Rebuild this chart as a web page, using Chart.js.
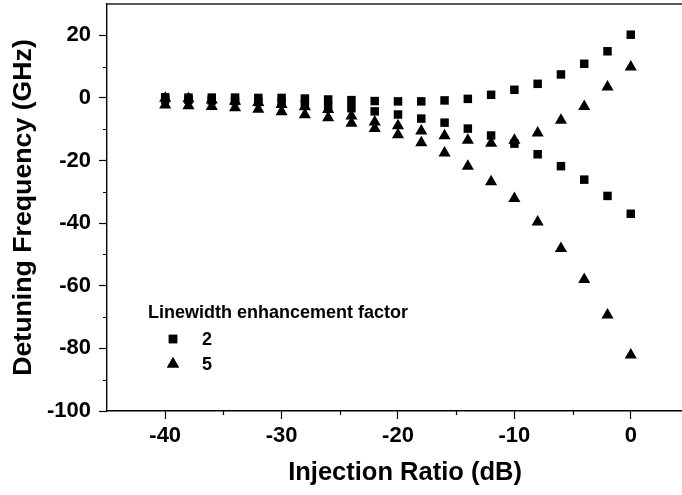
<!DOCTYPE html>
<html><head><meta charset="utf-8">
<script src="https://cdn.jsdelivr.net/npm/chart.js@4/dist/chart.umd.min.js"></script>
<style>html,body{margin:0;padding:0;background:#fff;overflow:hidden}#wrap{width:682px;height:495px;position:relative}</style>
</head><body><div id="wrap"><canvas id="c" width="682" height="495"></canvas></div>
<script>
// Injection ratio (dB)
const injectionRatio = [-40,-38,-36,-34,-32,-30,-28,-26,-24,-22,-20,-18,-16,-14,-12,-10,-8,-6,-4,-2,0];
// Linewidth enhancement factor 2 (squares): upper and lower branches (GHz)
const alpha2Upper = [0.2,0.1,0.1,0.1,0.0,0.0,-0.2,-0.5,-0.7,-1.0,-1.1,-1.1,-0.8,-0.3,1.0,2.6,4.5,7.5,10.9,14.9,20.2];
const alpha2Lower = [-0.5,-0.6,-0.8,-1.0,-1.3,-1.6,-2.0,-2.6,-3.3,-4.3,-5.3,-6.6,-7.9,-9.8,-12.0,-14.6,-18.0,-21.8,-26.1,-31.3,-37.0];
// Linewidth enhancement factor 5 (triangles): upper and lower branches (GHz)
const alpha5Upper = [-0.1,-0.3,-0.7,-1.1,-1.5,-2.1,-2.8,-3.7,-5.8,-7.7,-8.9,-10.6,-12.1,-13.5,-14.5,-13.5,-11.2,-7.1,-2.7,3.5,9.9];
const alpha5Lower = [-2.3,-2.5,-2.7,-3.1,-3.6,-4.4,-5.4,-6.3,-8.1,-9.8,-11.8,-14.3,-17.6,-21.8,-26.8,-32.1,-39.6,-48.1,-58.0,-69.3,-82.1];
const seriesNames = ['2', '5'];
const legendTitle = 'Linewidth enhancement factor';
const xTitle = 'Injection Ratio (dB)';
const yTitle = 'Detuning Frequency (GHz)';
const xMinorTicks = [-35,-25,-15,-5];
const yMinorTicks = [-90,-70,-50,-30,-10,10];

const FONT = "'Liberation Sans', Arial, sans-serif";
function pts(xs, ys) { return xs.map((x, i) => ({x: x, y: ys[i]})); }

const data2 = pts(injectionRatio, alpha2Upper).concat(pts(injectionRatio, alpha2Lower));
const data5 = pts(injectionRatio, alpha5Upper).concat(pts(injectionRatio, alpha5Lower));

const extras = {
  id: 'extras',
  afterDraw(chart) {
    const ctx = chart.ctx, a = chart.chartArea;
    const xs = chart.scales.x, ys = chart.scales.y;
    ctx.save();
    ctx.strokeStyle = '#222';
    ctx.lineWidth = 1.4;
    ctx.beginPath();
    ctx.moveTo(a.left, a.top);
    ctx.lineTo(chart.width, a.top);
    ctx.stroke();
    ctx.strokeStyle = '#000';
    ctx.lineWidth = 1.2;
    // minor ticks
    ctx.beginPath();
    xMinorTicks.forEach(v => { const p = Math.round(xs.getPixelForValue(v)) + 0.5; ctx.moveTo(p, a.bottom); ctx.lineTo(p, a.bottom + 4); });
    yMinorTicks.forEach(v => { const p = Math.round(ys.getPixelForValue(v)) + 0.5; ctx.moveTo(a.left, p); ctx.lineTo(a.left - 4, p); });
    ctx.stroke();
    ctx.fillStyle = '#000';
    ctx.textBaseline = 'middle';
    // x axis title (centred on the full frame, which runs past the window edge)
    ctx.font = 'bold 25.5px ' + FONT;
    ctx.textAlign = 'center';
    ctx.fillText(xTitle, 405, 473);
    // legend
    ctx.font = 'bold 18px ' + FONT;
    ctx.textAlign = 'left';
    ctx.fillText(legendTitle, 148, 313);
    const rows = [339, 364];
    chart.data.datasets.forEach((ds, i) => {
      Chart.helpers.drawPoint(ctx, {pointStyle: ds.pointStyle, radius: ds.pointRadius, borderWidth: 0, rotation: 0}, 173, rows[i]);
      ctx.fill();
      ctx.textAlign = 'center';
      ctx.fillText(seriesNames[i], 207, rows[i] + 1);
    });
    ctx.restore();
  }
};

new Chart(document.getElementById('c'), {
  type: 'scatter',
  data: {
    datasets: [
      {label: seriesNames[0], data: data2, pointStyle: 'rect', pointRadius: 6, backgroundColor: '#000', borderColor: '#000', borderWidth: 0},
      {label: seriesNames[1], data: data5, pointStyle: 'triangle', pointRadius: 7, backgroundColor: '#000', borderColor: '#000', borderWidth: 0}
    ]
  },
  options: {
    responsive: false,
    animation: false,
    devicePixelRatio: 1,
    layout: {autoPadding: false, padding: {top: 4, right: 0, left: 0, bottom: 0}},
    plugins: {legend: {display: false}, tooltip: {enabled: false}},
    scales: {
      x: {
        type: 'linear', min: -45, max: 4.4, position: 'bottom',
        afterFit: s => { s.height = 84; s.paddingLeft = 0; s.paddingRight = 0; },
        ticks: {stepSize: 10, includeBounds: false, color: '#000', padding: 4, font: {family: FONT, weight: 'bold', size: 22}},
        grid: {drawOnChartArea: false, tickLength: 8, tickColor: '#000', tickWidth: 1.2},
        border: {color: '#000', width: 1.4},
        title: {display: false, text: xTitle}
      },
      y: {
        type: 'linear', min: -100, max: 30,
        afterFit: s => { s.width = 107; s.paddingTop = 0; s.paddingBottom = 0; },
        ticks: {stepSize: 20, includeBounds: false, color: '#000', padding: 8, font: {family: FONT, weight: 'bold', size: 22}},
        grid: {drawOnChartArea: false, tickLength: 8, tickColor: '#000', tickWidth: 1.2},
        border: {color: '#000', width: 1.4},
        title: {display: true, text: yTitle, color: '#000', padding: {top: 8, bottom: 0}, font: {family: FONT, weight: 'bold', size: 26.7}}
      }
    }
  },
  plugins: [extras]
});
</script>
</body></html>
